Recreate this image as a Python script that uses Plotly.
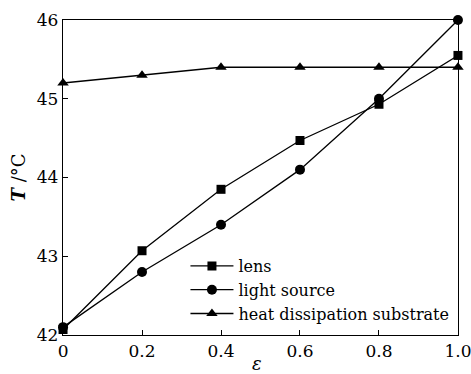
import plotly.graph_objects as go

eps = [0, 0.2, 0.4, 0.6, 0.8, 1.0]
lens = [42.07, 43.07, 43.85, 44.47, 44.93, 45.55]
light_source = [42.1, 42.8, 43.4, 44.1, 45.0, 46.0]
substrate = [45.2, 45.3, 45.4, 45.4, 45.4, 45.4]
x_ticks = [0, 0.2, 0.4, 0.6, 0.8, 1.0]
x_ticktext = ["0", "0.2", "0.4", "0.6", "0.8", "1.0"]
y_ticks = [42, 43, 44, 45, 46]

FONT = "DejaVu Serif"

fig = go.Figure()
series = [
    ("lens", lens, "square", 9),
    ("light source", light_source, "circle", 10),
    ("heat dissipation substrate", substrate, "triangle-up", 10),
]
for name, ys, sym, sz in series:
    fig.add_trace(go.Scatter(
        x=eps, y=ys, name=name, mode="lines+markers",
        line=dict(color="black", width=1.3),
        marker=dict(symbol=sym, size=sz, color="black"),
        cliponaxis=False,
    ))

fig.update_layout(
    width=471, height=374,
    margin=dict(l=63, r=13, t=20, b=39),
    paper_bgcolor="white", plot_bgcolor="white",
    font=dict(family=FONT, color="black", size=16),
    legend=dict(x=0.31, y=0.273, xanchor="left", yanchor="top",
                bgcolor="rgba(0,0,0,0)", font=dict(size=16, family=FONT),
                tracegroupgap=0, itemwidth=43),
    showlegend=True,
    annotations=[dict(text="<i>ε</i>", x=0.49, y=-0.092, xref="paper", yref="paper",
                      xanchor="center", yanchor="middle", showarrow=False,
                      font=dict(size=18, family=FONT))],
)
fig.update_xaxes(
    range=[-0.0001, 1.0001], tickvals=x_ticks, ticktext=x_ticktext,
    ticks="inside", ticklen=5, tickcolor="black",
    showline=True, linecolor="black", linewidth=1.3, mirror=True,
    showgrid=False, zeroline=False, automargin=False,
    ticklabeloverflow="allow",
    tickfont=dict(size=17, family=FONT),
)
fig.update_yaxes(
    range=[42, 46], tickvals=y_ticks,
    ticks="inside", ticklen=5, tickcolor="black",
    showline=True, linecolor="black", linewidth=1.3, mirror=True,
    showgrid=False, zeroline=False, automargin=False,
    tickfont=dict(size=17, family=FONT),
    title=dict(text="<b><i>T</i></b> /°C", font=dict(size=18, family=FONT), standoff=6),
)

fig.write_html("out.html")
